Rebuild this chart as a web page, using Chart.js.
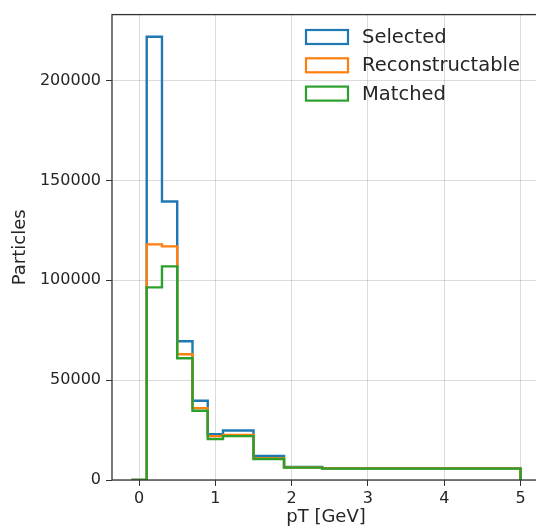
<!DOCTYPE html>
<html>
<head>
<meta charset="utf-8">
<script src="https://cdn.jsdelivr.net/npm/chart.js@4"></script>
<style>
  html, body { margin: 0; padding: 0; overflow: hidden; background: #fff; }
  #wrap { width: 545px; height: 530px; }
</style>
</head>
<body>
<div id="wrap"><canvas id="pt-chart"></canvas></div>
<script>
 /*-------------------
 Data
 -------------------*/
 // bin edges in pT [GeV], one more than the counts
 const binEdges = [-0.1, 0.1, 0.3, 0.5, 0.7, 0.9, 1.1, 1.5, 1.9, 2.4, 5.0];
 const selected = [0, 222000, 139500, 69500, 39700, 23000, 24800, 12000, 6500, 5900];
 const reconstructable = [0, 118000, 117000, 63000, 36000, 22000, 22600, 10900, 6300, 5800];
 const matched = [0, 96500, 107000, 61000, 34700, 20500, 22000, 10500, 6200, 5700];
 const seriesNames = ['Selected', 'Reconstructable', 'Matched'];
 const xTicks = [0, 1, 2, 3, 4, 5];
 const yTicks = [0, 50000, 100000, 150000, 200000];

 const fontFamily = "'DejaVu Sans', sans-serif";
 const textColor = '#262626';

 // turn counts into an outline like a step histogram
 // each point sits on the left edge of its bin ('before' steps carry it to the next edge)
 function stepPoints(counts) {
   const pts = [{ x: binEdges[0], y: 0 }];
   counts.forEach((c, i) => pts.push({ x: binEdges[i], y: c }));
   pts.push({ x: binEdges[binEdges.length - 1], y: 0 });
   return pts;
 }

 // --------- Legend inside the axes -----------
 const boxLegend = {
   id: 'boxLegend',
   afterDraw(chart) {
     const ctx = chart.ctx;
     ctx.save();
     ctx.font = `19.5px ${fontFamily}`;
     ctx.textBaseline = 'middle';
     ctx.fillStyle = textColor;
     chart.data.datasets.forEach((ds, i) => {
       const y = 37 + i * 28.3;
       ctx.strokeStyle = ds.borderColor;
       ctx.lineWidth = 2.2;
       ctx.strokeRect(306, y - 7, 42, 14);
       ctx.fillText(ds.label, 362, y + 1);
     });
     ctx.restore();
   }
 };

 // --------- Frame (spines) -----------
 const frame = {
   id: 'frame',
   afterDatasetsDraw(chart) {
     const a = chart.chartArea;
     const ctx = chart.ctx;
     ctx.save();
     ctx.strokeStyle = '#333';
     ctx.lineWidth = 1.3;
     ctx.strokeRect(a.left, a.top, a.right - a.left, a.bottom - a.top);
     ctx.restore();
   }
 };

 const colors = ['#1f77b4', '#ff7f0e', '#2ca02c'];
 const allSeries = [selected, reconstructable, matched];

 const ptData = {
   datasets: allSeries.map((s, i) => ({
     label: seriesNames[i],
     data: stepPoints(s),
     borderColor: colors[i],
     borderWidth: 2.4,
     stepped: 'before',
     fill: false,
     pointRadius: 0,
     order: 2 - i
   }))
 };

 const ptOptions = {
   responsive: true,
   maintainAspectRatio: false,
   animation: { duration: 0 },
   layout: { padding: { top: 11, right: 5, left: 0, bottom: 0 } },
   scales: {
     x: {
       type: 'linear',
       min: -0.355,
       max: 5.255,
       afterBuildTicks: (axis) => { axis.ticks = xTicks.map(v => ({ value: v })); },
       afterFit: (axis) => { axis.height = 50; },
       grid: { color: 'rgba(0,0,0,0.14)', tickColor: '#333', tickLength: 6 },
       border: { display: false },
       ticks: { color: textColor, font: { family: fontFamily, size: 16 }, padding: 3, maxRotation: 0 },
       title: { display: true, text: 'pT [GeV]', color: textColor, font: { family: fontFamily, size: 18 }, padding: { top: 0, bottom: 2 } }
     },
     y: {
       min: 0,
       max: 233100,
       afterBuildTicks: (axis) => { axis.ticks = yTicks.map(v => ({ value: v })); },
       afterFit: (axis) => { axis.width = 112; },
       grid: { color: 'rgba(0,0,0,0.14)', tickColor: '#333', tickLength: 6 },
       border: { display: false },
       ticks: { color: textColor, font: { family: fontFamily, size: 16 }, padding: 5, callback: v => String(v) },
       title: { display: true, text: 'Particles', color: textColor, font: { family: fontFamily, size: 18 }, padding: { top: 10, bottom: 0 } }
     }
   },
   plugins: {
     legend: { display: false },
     tooltip: { enabled: false }
   }
 };

 let ptChart = new Chart(document.getElementById('pt-chart'), {
   type: 'line',
   data: ptData,
   options: ptOptions,
   plugins: [frame, boxLegend]
 });
</script>
</body>
</html>
